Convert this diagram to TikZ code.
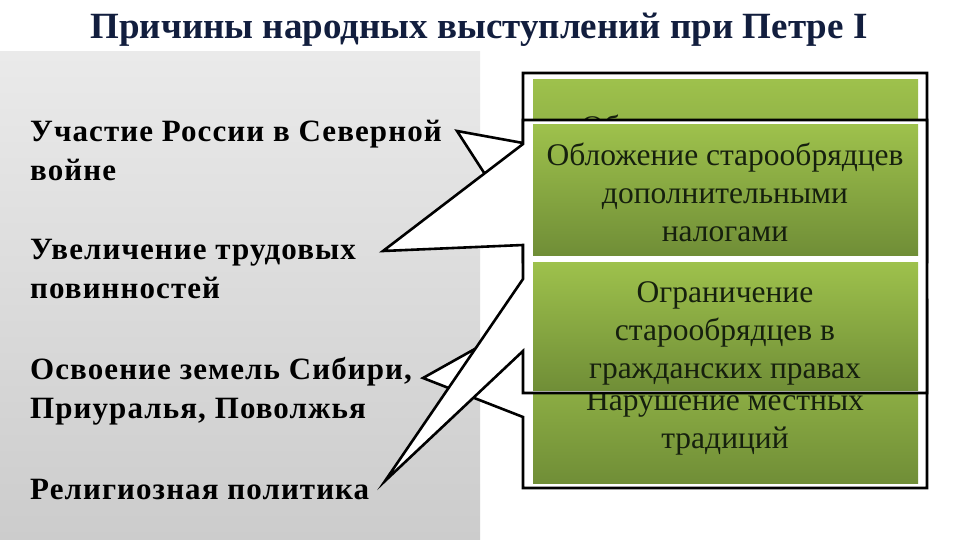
\documentclass[tikz,border=0pt]{standalone}
\usepackage{fontspec}
\setmainfont{Liberation Serif}
\newfontfamily\causefamily[LetterSpace=3.5]{Liberation Serif}
\definecolor{titleink}{RGB}{18,30,62}
\definecolor{boxink}{RGB}{22,32,14}
\definecolor{grtop}{RGB}{158,193,76}
\definecolor{grbot}{RGB}{112,142,55}
\definecolor{paneltop}{RGB}{234,234,234}
\definecolor{panelbot}{RGB}{204,204,204}

\begin{document}
\begin{tikzpicture}[x=1pt,y=-1pt,
  frame/.style={draw=black, line width=2.6pt, fill=white, line join=miter},
  greenbox/.style={top color=grtop, bottom color=grbot},
  cause/.style={font=\causefamily\fontsize{31}{39}\selectfont\bfseries, inner sep=0pt,
    anchor=base west, align=left},
  boxtext/.style={font=\fontsize{31.5}{38}\selectfont, text=boxink, inner sep=0pt,
    align=center, anchor=base}]

  \useasboundingbox (0,0) rectangle (960,540);
  \fill[white] (0,0) rectangle (960,540);

  %% Title and grey panel
  \node[font=\fontsize{37}{40}\selectfont\bfseries, text=titleink, anchor=base] (title) at (479,39)
    {Причины народных выступлений при Петре I};
  \shade[top color=paneltop, bottom color=panelbot] (0,52) rectangle (480,540);

  %% Left column: the causes (base = last line)
  \node[cause] (war)    at (30,180) {Участие России в Северной\\войне};
  \node[cause] (labour) at (30,298) {Увеличение трудовых\\повинностей};
  \node[cause] (land)   at (30,418) {Освоение земель Сибири,\\Приуралья, Поволжья};
  \node[cause] (faith)  at (30,499) {Религиозная политика};

  % Tips of the callouts
  \coordinate (warTip)    at (457,131);
  \coordinate (labourTip) at (383,251);
  \coordinate (landTip)   at (423,378);
  \coordinate (faithTip)  at (385,481);

  %% Back callout (mostly hidden)
  \path[frame] (523,73) -- (927,73) -- (927,262) -- (523,262) -- (523,233)
    -- (warTip) -- (523,143) -- cycle;
  \shade[greenbox] (533,80) rectangle (918,255);
  \node[boxtext, anchor=base west] (hidden) at (581,138) {Об};

  %% Bottom callout
  \path[frame] (523,300) -- (927,300) -- (927,488) -- (523,488) -- (523,417)
    -- (landTip) -- (523,322) -- cycle;
  \shade[greenbox] (533,330) rectangle (918,483);
  \node[boxtext] (custom) at (725,448) {Нарушение местных\\традиций};

  %% Front callout
  \path[frame] (523,120) -- (927,120) -- (927,393) -- (523,393) -- (523,351)
    -- (faithTip) -- (523,279) -- (523,245) -- (labourTip) -- (523,144) -- cycle;
  \shade[greenbox] (533,125) rectangle (918,255);
  \shade[greenbox] (533,262) rectangle (918,390);
  \node[boxtext] (taxes)  at (725,241) {Обложение старообрядцев\\дополнительными\\налогами};
  \node[boxtext] (rights) at (725,378) {Ограничение\\старообрядцев в\\гражданских правах};

\end{tikzpicture}
\end{document}
